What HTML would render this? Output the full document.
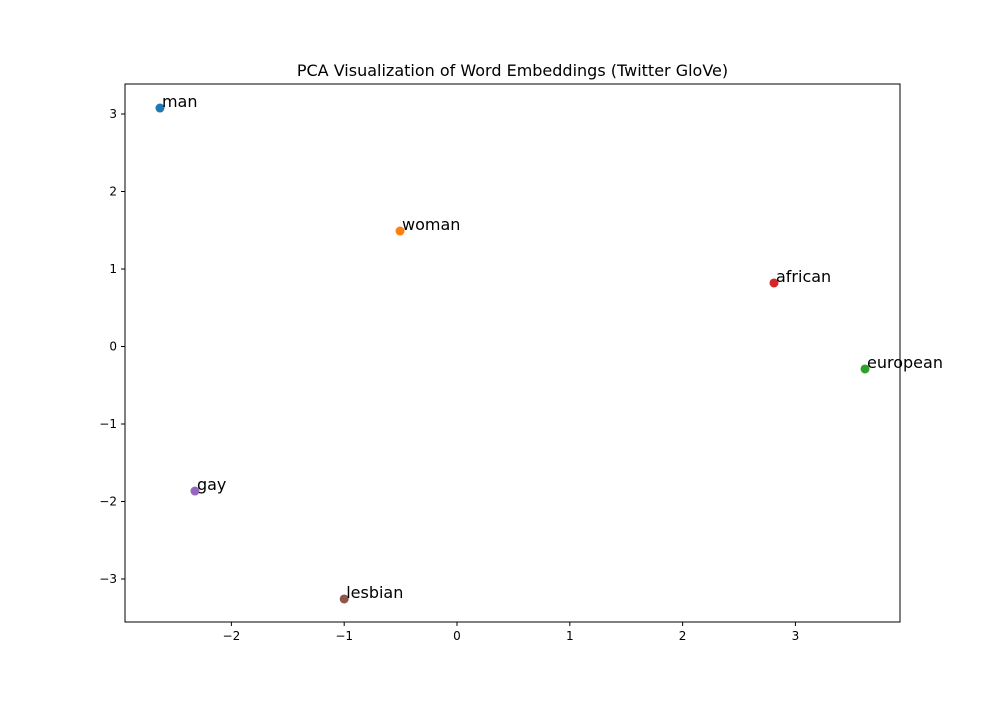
<!DOCTYPE html>
<html><head><meta charset="utf-8"><style>
html,body{margin:0;padding:0;background:#fff;}
svg text{font-family:"DejaVu Sans","Liberation Sans",sans-serif;}
</style></head><body>
<svg id="chart" width="1000" height="700" viewBox="0 0 1000 700">
<rect x="0" y="0" width="1000" height="700" fill="#fff"/>
<text x="512.5" y="76" text-anchor="middle" font-size="16">PCA Visualization of Word Embeddings (Twitter GloVe)</text>
<g id="ticks"></g>
<g id="marks"></g>
<rect x="125" y="84" width="775" height="538" fill="none" stroke="#000" stroke-width="1"/>
</svg>
<script>
const words = ["man","woman","european","african","gay","lesbian"];
const xs = [-2.633,-0.505,3.617,2.81,-2.323,-1.0];
const ys = [3.077,1.49,-0.29,0.82,-1.865,-3.258];
const colors = ["#1f77b4","#ff7f0e","#2ca02c","#d62728","#9467bd","#8c564b"];
const xTicks = [-2,-1,0,1,2,3];
const yTicks = [-3,-2,-1,0,1,2,3];
const xMin=-2.943, xMax=3.927, yMin=-3.555, yMax=3.387;
const L=125,R=900,T=84,B=622;
const sx=v=>L+(v-xMin)/(xMax-xMin)*(R-L);
const sy=v=>B-(v-yMin)/(yMax-yMin)*(B-T);
const NS="http://www.w3.org/2000/svg";
const tg=document.getElementById('ticks'), mg=document.getElementById('marks');
function mk(tag,attrs,parent){const e=document.createElementNS(NS,tag);for(const k in attrs)e.setAttribute(k,attrs[k]);parent.appendChild(e);return e;}
const fmt=v=>v<0?"\u2212"+Math.abs(v):String(v);
xTicks.forEach(v=>{
  const x=sx(v);
  const l=mk('line',{x1:x,x2:x,y1:B,y2:B+4,stroke:'#000'},tg);
  
  
  const t=mk('text',{x:x,y:B+18,'text-anchor':'middle','font-size':12},tg);
  t.textContent=fmt(v);
  
  
});
yTicks.forEach(v=>{
  const y=sy(v);
  const l=mk('line',{x1:L-4,x2:L,y1:y,y2:y,stroke:'#000'},tg);
  
  
  const t=mk('text',{x:L-8,y:y+4,'text-anchor':'end','font-size':12},tg);
  t.textContent=fmt(v);
  
  
});
words.forEach((w,i)=>{
  const cx=sx(xs[i]), cy=sy(ys[i]);
  const c=mk('circle',{cx:cx,cy:cy,r:4.5,fill:colors[i]},mg);
  
  
  const t=mk('text',{x:cx+2,y:cy-1,'font-size':16},mg);
  t.textContent=w;
  
  
});
</script>
</body></html>
